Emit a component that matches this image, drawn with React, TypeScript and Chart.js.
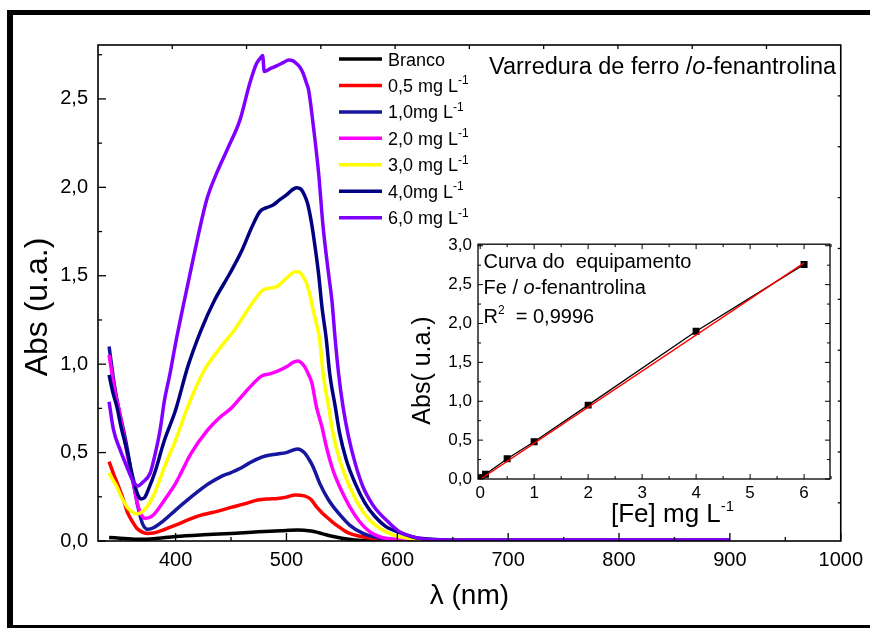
import React, { useEffect, useRef } from "react";
import { Chart, registerables } from "chart.js";
Chart.register(...registerables);

const FONT = "'Liberation Sans', Arial, sans-serif";

// ---------- main chart data (wavelength nm / absorbance) ----------
const brancoX = [340, 350, 360, 370, 380, 400, 425, 450, 475, 495, 510, 522, 532, 540, 550, 562, 575, 600, 650, 700, 800, 900];
const brancoY = [0.02, 0.016, 0.012, 0.01, 0.013, 0.025, 0.035, 0.043, 0.052, 0.058, 0.062, 0.056, 0.042, 0.028, 0.016, 0.006, 0.002, 0.0, 0.0, 0.0, 0.0, 0.0];

const c05X = [340, 344, 348, 352, 357, 361, 365, 370, 374, 380, 390, 400, 420, 440, 450, 462, 474, 484, 492, 500, 508, 516, 522, 527, 532, 536, 541, 547, 552, 557, 565, 572, 580, 590, 605, 620, 650, 700, 800, 900];
const c05Y = [0.449, 0.38, 0.317, 0.25, 0.156, 0.11, 0.072, 0.05, 0.043, 0.045, 0.065, 0.09, 0.141, 0.172, 0.19, 0.21, 0.232, 0.238, 0.24, 0.248, 0.26, 0.255, 0.236, 0.194, 0.16, 0.137, 0.11, 0.081, 0.06, 0.043, 0.028, 0.02, 0.013, 0.008, 0.005, 0.004, 0.004, 0.004, 0.004, 0.004];

const c10X = [340, 345, 349, 353, 357, 360, 363, 366, 370, 375, 380, 390, 400, 410, 420, 430, 441, 450, 458, 466, 474, 481, 492, 500, 510, 516, 520, 524, 530, 538, 547, 557, 569, 584, 600, 620, 650, 700, 800, 900];
const c10Y = [1.1, 0.873, 0.74, 0.628, 0.5, 0.383, 0.29, 0.194, 0.1, 0.066, 0.075, 0.119, 0.175, 0.228, 0.279, 0.325, 0.364, 0.387, 0.41, 0.439, 0.465, 0.481, 0.492, 0.5, 0.52, 0.5, 0.465, 0.42, 0.326, 0.232, 0.157, 0.09, 0.043, 0.017, 0.008, 0.005, 0.004, 0.004, 0.004, 0.004];

const c20X = [340, 345, 349, 353, 357, 362, 366, 369, 372, 376, 380, 390, 400, 414, 429, 440, 450, 462, 470, 478, 485, 493, 500, 506, 510, 516, 520, 523, 527, 532, 536, 542, 548, 557, 566, 575, 584, 600, 620, 650, 700, 800, 900];
const c20Y = [1.052, 0.854, 0.74, 0.609, 0.47, 0.326, 0.2, 0.15, 0.128, 0.132, 0.147, 0.232, 0.326, 0.496, 0.628, 0.7, 0.75, 0.835, 0.89, 0.935, 0.945, 0.963, 0.985, 1.01, 1.018, 0.99, 0.94, 0.892, 0.76, 0.646, 0.533, 0.4, 0.307, 0.194, 0.109, 0.053, 0.024, 0.008, 0.005, 0.004, 0.004, 0.004, 0.004];

const c30X = [340, 343, 347, 351, 356, 360, 365, 370, 375, 381, 390, 400, 411, 426, 441, 453, 465, 472, 479, 485, 491, 500, 508, 512, 515, 518, 520, 522, 524, 527, 530, 533, 538, 542, 548, 557, 566, 575, 584, 596, 610, 630, 650, 700, 800, 900];
const c30Y = [0.386, 0.35, 0.307, 0.25, 0.194, 0.168, 0.153, 0.165, 0.2, 0.27, 0.42, 0.571, 0.76, 0.967, 1.099, 1.193, 1.307, 1.37, 1.42, 1.43, 1.438, 1.486, 1.523, 1.52, 1.495, 1.46, 1.42, 1.37, 1.307, 1.23, 1.137, 0.948, 0.76, 0.609, 0.458, 0.307, 0.194, 0.119, 0.072, 0.035, 0.015, 0.006, 0.005, 0.005, 0.005, 0.005];

const c40X = [340, 343, 347, 351, 356, 362, 366, 369, 372, 376, 381, 390, 400, 411, 423, 435, 449, 460, 469, 476, 482, 488, 494, 500, 505, 509, 513, 516, 519, 522, 525, 529, 532, 536, 539, 544, 548, 554, 562, 571, 580, 590, 600, 620, 650, 700, 800, 900];
const c40Y = [0.94, 0.85, 0.76, 0.64, 0.515, 0.345, 0.26, 0.238, 0.245, 0.3, 0.383, 0.571, 0.741, 0.986, 1.193, 1.36, 1.514, 1.646, 1.778, 1.863, 1.885, 1.9, 1.93, 1.957, 1.985, 1.998, 1.99, 1.96, 1.91, 1.82, 1.7, 1.51, 1.325, 1.137, 0.948, 0.76, 0.609, 0.458, 0.326, 0.213, 0.137, 0.08, 0.053, 0.015, 0.006, 0.005, 0.005, 0.005];

const c60X = [340, 344, 350, 356, 362, 366, 370, 377, 381, 386, 390, 395, 400, 408, 416, 428, 437, 447, 458, 467, 473, 477, 478.5, 480, 485, 491, 497, 502, 506, 509, 512, 515, 518, 520, 524, 529, 533, 538, 541, 544, 547, 551, 556, 562, 569, 578, 584, 590, 602, 620, 638, 650, 700, 800, 900];
const c60Y = [0.788, 0.628, 0.515, 0.42, 0.335, 0.311, 0.33, 0.383, 0.477, 0.628, 0.797, 0.948, 1.118, 1.363, 1.6, 1.929, 2.08, 2.22, 2.38, 2.59, 2.7, 2.735, 2.745, 2.655, 2.67, 2.687, 2.705, 2.72, 2.715, 2.7, 2.68, 2.645, 2.59, 2.55, 2.36, 2.08, 1.78, 1.51, 1.36, 1.137, 0.948, 0.76, 0.59, 0.439, 0.307, 0.203, 0.156, 0.119, 0.053, 0.015, 0.006, 0.005, 0.005, 0.005, 0.005];

const seriesX = [brancoX, c05X, c10X, c20X, c30X, c40X, c60X];
const seriesY = [brancoY, c05Y, c10Y, c20Y, c30Y, c40Y, c60Y];
const seriesLabels = ["Branco", "0,5 mg L-1", "1,0mg L-1", "2,0 mg L-1", "3,0 mg L-1", "4,0mg L-1", "6,0 mg L-1"];
const seriesColors = ["#000000", "#FF0000", "#16169E", "#FF00FF", "#FFFF00", "#000080", "#8000FF"];

const xTicks = [400, 500, 600, 700, 800, 900, 1000];
const xMinor = [350, 450, 550, 650, 750, 850, 950];
const yTicks = [0, 0.5, 1.0, 1.5, 2.0, 2.5];
const yMinor = [0.25, 0.75, 1.25, 1.75, 2.25, 2.75];

// ---------- inset data ----------
const insetConc = [0.02, 0.1, 0.5, 1, 2, 4, 6];
const insetAbs = [0.015, 0.06, 0.26, 0.48, 0.95, 1.9, 2.76];
const fitConc = [0, 6];
const fitAbs = [-0.005, 2.78];
const insetXTicks = [0, 1, 2, 3, 4, 5, 6];
const insetXMinor = [0.5, 1.5, 2.5, 3.5, 4.5, 5.5, 6.5];
const insetYTicks = [0, 0.5, 1.0, 1.5, 2.0, 2.5, 3.0];
const insetYMinor = [0.25, 0.75, 1.25, 1.75, 2.25, 2.75];

const comma = (v: number) => v.toFixed(1).replace(".", ",");

type Part = { t: string; italic?: boolean; sup?: boolean };
function drawRich(ctx: CanvasRenderingContext2D, x: number, y: number, parts: Part[], size: number, supSize?: number) {
  let cx = x;
  for (const p of parts) {
    const fs = p.sup ? supSize || size * 0.6 : size;
    ctx.font = `${p.italic ? "italic " : ""}${fs}px ${FONT}`;
    const dy = p.sup ? -size * 0.42 : 0;
    ctx.fillText(p.t, cx, y + dy);
    cx += ctx.measureText(p.t).width;
  }
  return cx;
}
function splitSup(label: string): Part[] {
  if (label.endsWith("-1")) return [{ t: label.slice(0, -2) }, { t: "-1", sup: true }];
  return [{ t: label }];
}
function seg(ctx: CanvasRenderingContext2D, x1: number, y1: number, x2: number, y2: number) {
  ctx.beginPath();
  ctx.moveTo(x1, y1);
  ctx.lineTo(x2, y2);
  ctx.stroke();
}

const mainDecor = {
  id: "mainDecor",
  afterDraw(chart: any) {
    const { ctx, chartArea, scales } = chart;
    const { left, right, top, bottom } = chartArea;
    const xs = scales.x;
    const ys = scales.y;
    ctx.save();
    ctx.strokeStyle = "#000";
    ctx.fillStyle = "#000";
    ctx.lineWidth = 1.6;
    ctx.strokeRect(left, top, right - left, bottom - top);
    ctx.lineWidth = 1.3;
    xTicks.forEach((v) => { const p = xs.getPixelForValue(v); seg(ctx, p, bottom, p, bottom - 8); });
    xMinor.forEach((v) => { const p = xs.getPixelForValue(v); seg(ctx, p, bottom, p, bottom - 4); });
    yTicks.forEach((v) => { const p = ys.getPixelForValue(v); seg(ctx, left, p, left + 8, p); });
    yMinor.forEach((v) => { const p = ys.getPixelForValue(v); seg(ctx, left, p, left + 4, p); });
    for (let k = 1; k < 10; k++) {
      const px = left + ((right - left) * k) / 10;
      seg(ctx, px, top, px, top + 4);
      const py = top + ((bottom - top) * k) / 9.75;
      seg(ctx, right, py, right - 3, py);
    }
    // legend
    chart.data.datasets.forEach((ds: any, i: number) => {
      const ly = 59 + i * 26.45;
      ctx.strokeStyle = ds.borderColor;
      ctx.lineWidth = 3.5;
      seg(ctx, 339, ly, 382, ly);
      ctx.fillStyle = "#000";
      ctx.textAlign = "left";
      ctx.textBaseline = "alphabetic";
      drawRich(ctx, 388, ly + 6.5, splitSup(ds.label), 18, 12);
    });
    // title
    ctx.fillStyle = "#000";
    drawRich(ctx, 489, 73.5, [{ t: "Varredura de ferro /" }, { t: "o", italic: true }, { t: "-fenantrolina" }], 23.5);
    // axis titles
    ctx.font = `28px ${FONT}`;
    ctx.textAlign = "center";
    ctx.textBaseline = "middle";
    ctx.fillText("λ (nm)", (left + right) / 2, 596);
    ctx.save();
    ctx.translate(38, 307);
    ctx.rotate(-Math.PI / 2);
    ctx.font = `32px ${FONT}`;
    ctx.fillText("Abs (u.a.)", 0, 0);
    ctx.restore();
    // outer frame
    ctx.fillStyle = "#000";
    ctx.fillRect(7, 10, chart.width - 7, 5);
    ctx.fillRect(7, 10, 6, chart.height - 10);
    ctx.fillRect(7, chart.height - 3, chart.width - 7, 3);
    ctx.restore();
  },
};

const insetDecor = {
  id: "insetDecor",
  beforeDatasetsDraw(chart: any) {
    const { ctx, chartArea } = chart;
    ctx.save();
    ctx.fillStyle = "#fff";
    ctx.fillRect(chartArea.left, chartArea.top, chartArea.right - chartArea.left, chartArea.bottom - chartArea.top);
    ctx.restore();
  },
  afterDraw(chart: any) {
    const { ctx, chartArea, scales } = chart;
    const { left, right, top, bottom } = chartArea;
    const xs = scales.x;
    const ys = scales.y;
    ctx.save();
    ctx.strokeStyle = "#000";
    ctx.fillStyle = "#000";
    ctx.lineWidth = 1.3;
    ctx.strokeRect(left, top, right - left, bottom - top);
    ctx.lineWidth = 1;
    insetXTicks.forEach((v) => { const p = xs.getPixelForValue(v); seg(ctx, p, bottom, p, bottom - 5); seg(ctx, p, top, p, top + 5); });
    insetXMinor.forEach((v) => { const p = xs.getPixelForValue(v); seg(ctx, p, bottom, p, bottom - 3); seg(ctx, p, top, p, top + 3); });
    insetYTicks.forEach((v) => { const p = ys.getPixelForValue(v); seg(ctx, left, p, left + 5, p); seg(ctx, right, p, right - 5, p); });
    insetYMinor.forEach((v) => { const p = ys.getPixelForValue(v); seg(ctx, left, p, left + 3, p); seg(ctx, right, p, right - 3, p); });
    ctx.textAlign = "left";
    ctx.textBaseline = "alphabetic";
    const tx = left + 5.5;
    drawRich(ctx, tx, top + 23.5, [{ t: "Curva do  equipamento" }], 20);
    drawRich(ctx, tx, top + 50, [{ t: "Fe / " }, { t: "o", italic: true }, { t: "-fenantrolina" }], 20);
    drawRich(ctx, tx, top + 78.5, [{ t: "R" }, { t: "2", sup: true }, { t: "  = 0,9996" }], 20, 12);
    drawRich(ctx, 221, 294, [{ t: "[Fe] mg L" }, { t: "-1", sup: true }], 26, 15);
    ctx.save();
    ctx.translate(33, 142.5);
    ctx.rotate(-Math.PI / 2);
    ctx.font = `25px ${FONT}`;
    ctx.textAlign = "center";
    ctx.textBaseline = "middle";
    ctx.fillText("Abs( u.a.)", 0, 0);
    ctx.restore();
    ctx.restore();
  },
};

export default function App() {
  const mainRef = useRef<HTMLCanvasElement>(null);
  const insetRef = useRef<HTMLCanvasElement>(null);

  useEffect(() => {
    const main = new Chart(mainRef.current as HTMLCanvasElement, {
      type: "line",
      data: {
        datasets: seriesLabels.map((label, i) => ({
          label,
          data: seriesX[i].map((x, j) => ({ x, y: seriesY[i][j] })),
          borderColor: seriesColors[i],
          backgroundColor: seriesColors[i],
          borderWidth: 3.5,
          pointRadius: 0,
          cubicInterpolationMode: "monotone" as const,
          order: seriesLabels.length - 1 - i,
        })),
      },
      options: {
        responsive: false,
        animation: false,
        events: [],
        layout: { padding: { left: 0, right: 29, top: 45, bottom: 0 } },
        plugins: { legend: { display: false }, tooltip: { enabled: false } },
        scales: {
          x: {
            type: "linear",
            min: 330,
            max: 1000,
            grid: { display: false, drawTicks: false },
            border: { display: false },
            afterBuildTicks: (s: any) => { s.ticks = xTicks.map((value) => ({ value })); },
            afterFit: (s: any) => { s.height = 87; },
            ticks: { autoSkip: false, maxRotation: 0, padding: 7, color: "#000", font: { family: FONT, size: 20 }, callback: (v: any) => String(v) },
          },
          y: {
            type: "linear",
            min: 0,
            max: 2.805,
            grid: { display: false, drawTicks: false },
            border: { display: false },
            afterBuildTicks: (s: any) => { s.ticks = yTicks.map((value) => ({ value })); },
            afterFit: (s: any) => { s.width = 98; },
            ticks: { autoSkip: false, padding: 10, color: "#000", font: { family: FONT, size: 20 }, callback: (v: any) => comma(Number(v)) },
          },
        },
      },
      plugins: [mainDecor],
    });

    const inset = new Chart(insetRef.current as HTMLCanvasElement, {
      type: "line",
      data: {
        datasets: [
          {
            label: "Abs",
            data: insetConc.map((x, j) => ({ x, y: insetAbs[j] })),
            borderColor: "#000",
            backgroundColor: "#000",
            borderWidth: 1.3,
            pointStyle: "rect",
            pointRadius: 4,
            pointBackgroundColor: "#000",
            pointBorderColor: "#000",
            order: 1,
          },
          {
            label: "Ajuste linear",
            data: fitConc.map((x, j) => ({ x, y: fitAbs[j] })),
            borderColor: "#FF0000",
            backgroundColor: "#FF0000",
            borderWidth: 1.3,
            pointRadius: 0,
            order: 0,
          },
        ],
      },
      options: {
        responsive: false,
        animation: false,
        events: [],
        layout: { padding: { left: 0, right: 20, top: 15, bottom: 0 } },
        plugins: { legend: { display: false }, tooltip: { enabled: false } },
        scales: {
          x: {
            type: "linear",
            min: -0.04,
            max: 6.48,
            grid: { display: false, drawTicks: false },
            border: { display: false },
            afterBuildTicks: (s: any) => { s.ticks = insetXTicks.map((value) => ({ value })); },
            afterFit: (s: any) => { s.height = 59; },
            ticks: { autoSkip: false, maxRotation: 0, padding: 4, color: "#000", font: { family: FONT, size: 17 }, callback: (v: any) => String(v) },
          },
          y: {
            type: "linear",
            min: 0,
            max: 3.02,
            grid: { display: false, drawTicks: false },
            border: { display: false },
            afterBuildTicks: (s: any) => { s.ticks = insetYTicks.map((value) => ({ value })); },
            afterFit: (s: any) => { s.width = 88; },
            ticks: { autoSkip: false, padding: 6, color: "#000", font: { family: FONT, size: 17 }, callback: (v: any) => comma(Number(v)) },
          },
        },
      },
      plugins: [insetDecor],
    });

    return () => {
      main.destroy();
      inset.destroy();
    };
  }, []);

  return (
    <div style={{ position: "absolute", left: 0, top: 0, width: 870, height: 628, background: "#fff", overflow: "hidden" }}>
      <canvas ref={mainRef} width={870} height={628} style={{ position: "absolute", left: 0, top: 0, width: 870, height: 628 }} />
      <canvas ref={insetRef} width={460} height={310} style={{ position: "absolute", left: 390, top: 228, width: 460, height: 310 }} />
    </div>
  );
}
